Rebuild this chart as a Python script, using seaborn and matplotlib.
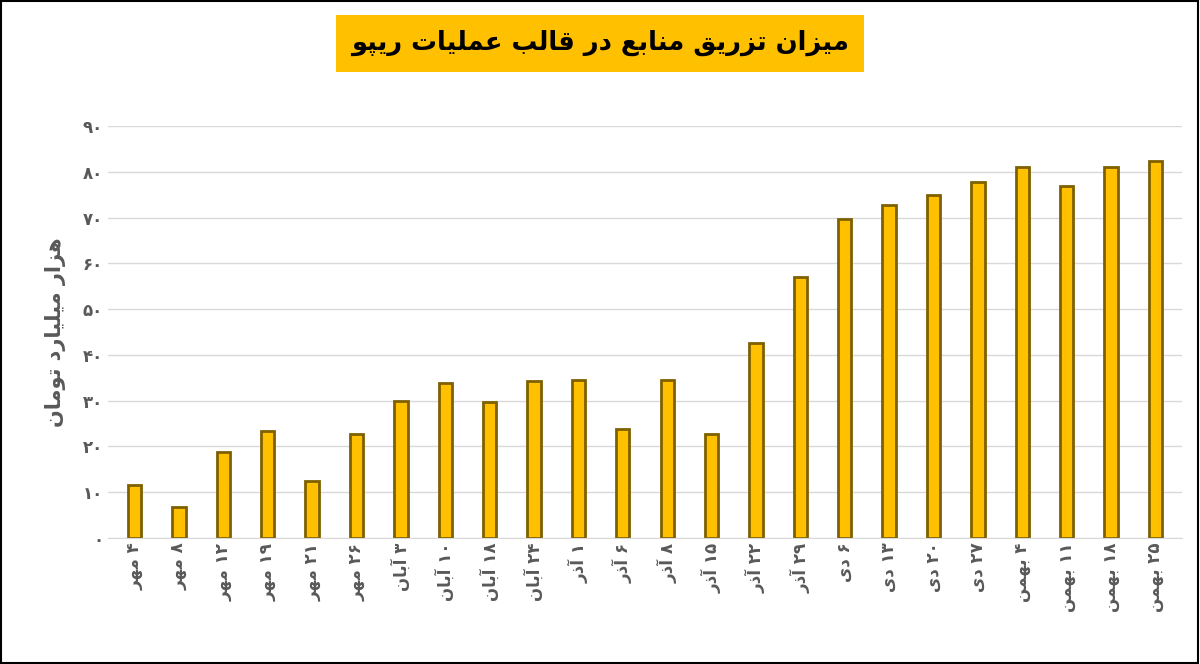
import matplotlib
matplotlib.use("Agg")
import matplotlib.pyplot as plt
import seaborn as sns
import pandas as pd
from matplotlib.patches import Rectangle

days = ["۴", "۸", "۱۲", "۱۹", "۲۱", "۲۶", "۳", "۱۰", "۱۸", "۲۴", "۱", "۶", "۸", "۱۵",
        "۲۲", "۲۹", "۶", "۱۳", "۲۰", "۲۷", "۴", "۱۱", "۱۸", "۲۵"]
months = ["مهر"] * 6 + ["آبان"] * 4 + ["آذر"] * 6 + ["دی"] * 4 + ["بهمن"] * 4
values = [11.6, 6.8, 18.8, 23.4, 12.5, 22.8, 30.0, 33.9, 29.6, 34.2, 34.4, 23.9,
          34.4, 22.8, 42.7, 57.1, 69.8, 72.7, 74.9, 77.9, 81.0, 76.9, 81.0, 82.3]
yticks = [0, 10, 20, 30, 40, 50, 60, 70, 80, 90]
title = "میزان تزریق منابع در قالب عملیات ریپو"
ylabel = "هزار میلیارد تومان"

# minimal arabic shaping: (isolated, final, initial, medial)
FORMS = {
    "ا": (0xFE8D, 0xFE8E), "آ": (0xFE81, 0xFE82), "د": (0xFEA9, 0xFEAA),
    "ذ": (0xFEAB, 0xFEAC), "ر": (0xFEAD, 0xFEAE), "ز": (0xFEAF, 0xFEB0),
    "و": (0xFEED, 0xFEEE),
    "ب": (0xFE8F, 0xFE90, 0xFE91, 0xFE92), "ت": (0xFE95, 0xFE96, 0xFE97, 0xFE98),
    "ع": (0xFEC9, 0xFECA, 0xFECB, 0xFECC), "ق": (0xFED5, 0xFED6, 0xFED7, 0xFED8),
    "ل": (0xFEDD, 0xFEDE, 0xFEDF, 0xFEE0), "م": (0xFEE1, 0xFEE2, 0xFEE3, 0xFEE4),
    "ن": (0xFEE5, 0xFEE6, 0xFEE7, 0xFEE8), "ه": (0xFEE9, 0xFEEA, 0xFEEB, 0xFEEC),
    "ی": (0xFBFC, 0xFBFD, 0xFBFE, 0xFBFF), "پ": (0xFB56, 0xFB57, 0xFB58, 0xFB59),
}


def shape(s):
    out = []
    for i, c in enumerate(s):
        if c not in FORMS:
            out.append(c)
            continue
        prev = s[i - 1] if i > 0 else ""
        nxt = s[i + 1] if i + 1 < len(s) else ""
        join_prev = prev in FORMS and len(FORMS[prev]) == 4
        join_next = nxt in FORMS and len(FORMS[c]) == 4
        f = FORMS[c]
        if join_prev and join_next:
            out.append(chr(f[3]))
        elif join_prev:
            out.append(chr(f[1]))
        elif join_next:
            out.append(chr(f[2]))
        else:
            out.append(chr(f[0]))
    return "".join(reversed(out))


def to_fa(n):
    return str(n).translate(str.maketrans("0123456789", "۰۱۲۳۴۵۶۷۸۹"))


labels = [f"{shape(m)} {d}" for d, m in zip(days, months)]
df = pd.DataFrame({"label": labels, "value": values})

sns.set_style("white")
plt.rcParams["font.family"] = ["DejaVu Sans"]

fig, ax = plt.subplots(figsize=(12, 6.64), dpi=100)
fig.subplots_adjust(left=0.09, right=0.985, top=0.81, bottom=0.19)
sns.barplot(data=df, x="label", y="value", color="#FFC000", edgecolor="#7F6000",
            linewidth=2, width=0.3, saturation=1, ax=ax)
ax.set_ylim(0, 90)
ax.set_yticks(yticks)
ax.set_yticklabels([to_fa(t) for t in yticks], fontsize=12, color="#595959",
                   fontweight="bold")
ax.yaxis.grid(True, color="#d9d9d9", linewidth=1)
ax.set_axisbelow(True)
for s in ["top", "right", "left"]:
    ax.spines[s].set_visible(False)
ax.spines["bottom"].set_color("#d9d9d9")
ax.tick_params(axis="x", rotation=90, labelsize=12, colors="#595959", length=0)
for t in ax.get_xticklabels():
    t.set_fontweight("bold")
ax.tick_params(axis="y", length=0)
ax.set_xlabel("")
ax.set_ylabel(shape(ylabel), fontsize=15, fontweight="bold", color="#595959", labelpad=12)
ax.set_xlim(-0.6, len(values) - 0.4)

fig.text(0.5, 0.935, shape(title), ha="center", va="center", fontsize=18.5,
         fontweight="bold", color="#000000",
         bbox=dict(boxstyle="square,pad=0.6", facecolor="#FFC000", edgecolor="none"))
fig.patches.append(Rectangle((0.001, 0.001), 0.997, 0.997, transform=fig.transFigure,
                             fill=False, edgecolor="black", linewidth=1.5))

fig.savefig("out.png", dpi=100)
